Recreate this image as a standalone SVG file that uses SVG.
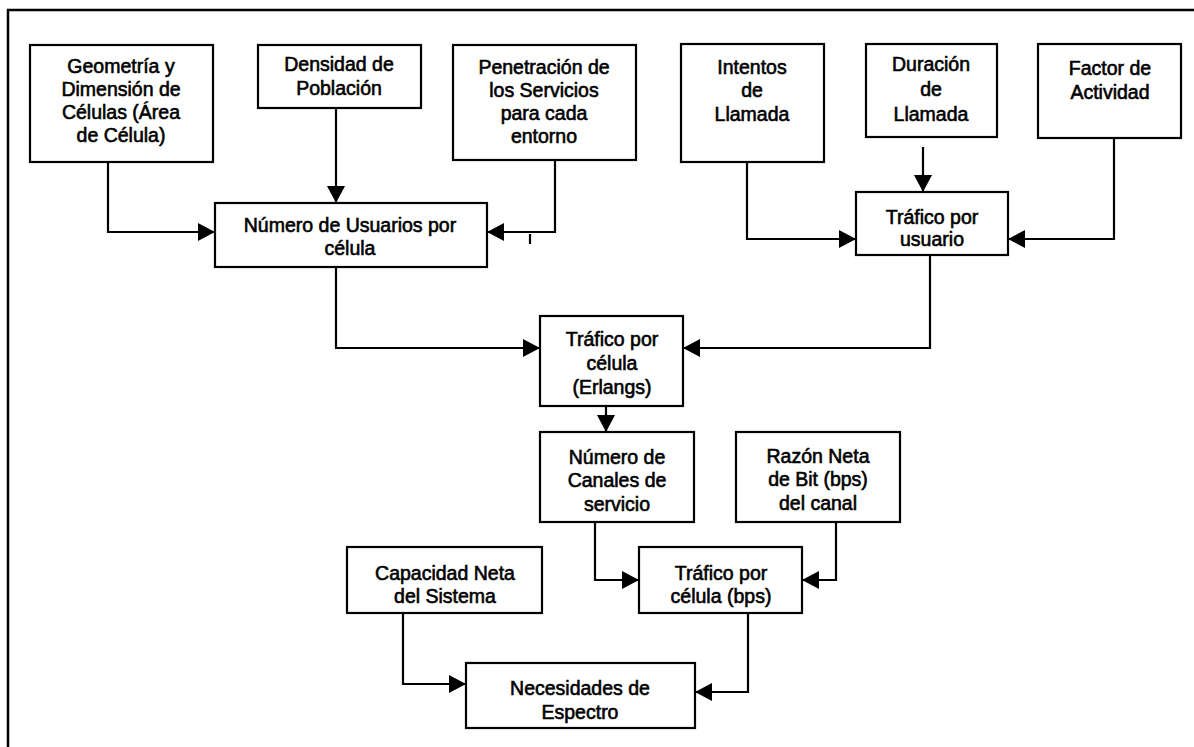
<svg xmlns="http://www.w3.org/2000/svg" width="1194" height="747" viewBox="0 0 1194 747">
<defs>
<style>
.box{fill:#fff;stroke:#000;stroke-width:2.2}
.t{font-family:"Liberation Sans",Arial,sans-serif;font-size:19.5px;fill:#000;stroke:#000;stroke-width:0.6;text-anchor:middle}
.c{fill:none;stroke:#000;stroke-width:2.2}
</style>
<marker id="ah" viewBox="0 0 17 18" refX="17" refY="9" markerWidth="17" markerHeight="18" markerUnits="userSpaceOnUse" orient="auto">
<path d="M0,0 L17,9 L0,18 Z" fill="#000"/>
</marker>
</defs>
<rect width="1194" height="747" fill="#fff"/>
<path d="M1194,10 H8 V747" fill="none" stroke="#000" stroke-width="2.5"/>
<g id="connectors">
<path class="c" d="M108,162 V232 H215" marker-end="url(#ah)"/>
<path class="c" d="M336,108 V203" marker-end="url(#ah)"/>
<path class="c" d="M555,160 V232 H487" marker-end="url(#ah)"/>
<path class="c" d="M530,234 V244"/>
<path class="c" d="M747,162 V239 H856" marker-end="url(#ah)"/>
<path class="c" d="M923,147 V192" marker-end="url(#ah)"/>
<path class="c" d="M1114,138 V239 H1008" marker-end="url(#ah)"/>
<path class="c" d="M336,267 V348 H540" marker-end="url(#ah)"/>
<path class="c" d="M930,255 V348 H683" marker-end="url(#ah)"/>
<path class="c" d="M606,406 V432" marker-end="url(#ah)"/>
<path class="c" d="M595,522 V580 H639" marker-end="url(#ah)"/>
<path class="c" d="M836,522 V580 H802" marker-end="url(#ah)"/>
<path class="c" d="M403,613 V684 H466" marker-end="url(#ah)"/>
<path class="c" d="M748,613 V692 H695" marker-end="url(#ah)"/>
</g>
<g id="n1"><rect class="box" x="30" y="45" width="183" height="117"/>
<text class="t"><tspan x="121" y="73">Geometría y</tspan><tspan x="121" y="96">Dimensión de</tspan><tspan x="121" y="119">Células (Área</tspan><tspan x="121" y="142">de Célula)</tspan></text></g>
<g id="n2"><rect class="box" x="258" y="45" width="163" height="63"/>
<text class="t"><tspan x="339" y="71">Densidad de</tspan><tspan x="339" y="95">Población</tspan></text></g>
<g id="n3"><rect class="box" x="453" y="45" width="183" height="115"/>
<text class="t"><tspan x="544" y="74">Penetración de</tspan><tspan x="544" y="97">los Servicios</tspan><tspan x="544" y="120">para cada</tspan><tspan x="544" y="143">entorno</tspan></text></g>
<g id="n4"><rect class="box" x="681" y="44" width="143" height="118"/>
<text class="t"><tspan x="752" y="74">Intentos</tspan><tspan x="752" y="97">de</tspan><tspan x="752" y="121">Llamada</tspan></text></g>
<g id="n5"><rect class="box" x="866" y="44" width="131" height="93"/>
<text class="t"><tspan x="931" y="71">Duración</tspan><tspan x="931" y="96">de</tspan><tspan x="931" y="121">Llamada</tspan></text></g>
<g id="n6"><rect class="box" x="1038" y="44" width="143" height="94"/>
<text class="t"><tspan x="1110" y="75">Factor de</tspan><tspan x="1110" y="99">Actividad</tspan></text></g>
<g id="n7"><rect class="box" x="215" y="203" width="272" height="64"/>
<text class="t"><tspan x="350" y="232">Número de Usuarios por</tspan><tspan x="350" y="255">célula</tspan></text></g>
<g id="n8"><rect class="box" x="856" y="192" width="152" height="63"/>
<text class="t"><tspan x="932" y="224">Tráfico por</tspan><tspan x="932" y="246">usuario</tspan></text></g>
<g id="n9"><rect class="box" x="540" y="316" width="143" height="90"/>
<text class="t"><tspan x="612" y="346">Tráfico por</tspan><tspan x="612" y="370">célula</tspan><tspan x="612" y="394">(Erlangs)</tspan></text></g>
<g id="n10"><rect class="box" x="540" y="432" width="154" height="90"/>
<text class="t"><tspan x="617" y="464">Número de</tspan><tspan x="617" y="487">Canales de</tspan><tspan x="617" y="511">servicio</tspan></text></g>
<g id="n11"><rect class="box" x="736" y="432" width="164" height="90"/>
<text class="t"><tspan x="818" y="463">Razón Neta</tspan><tspan x="818" y="486">de Bit (bps)</tspan><tspan x="818" y="510">del canal</tspan></text></g>
<g id="n12"><rect class="box" x="347" y="547" width="195" height="66"/>
<text class="t"><tspan x="445" y="580">Capacidad Neta</tspan><tspan x="445" y="603">del Sistema</tspan></text></g>
<g id="n13"><rect class="box" x="639" y="547" width="163" height="66"/>
<text class="t"><tspan x="721" y="580">Tráfico por</tspan><tspan x="721" y="603">célula (bps)</tspan></text></g>
<g id="n14"><rect class="box" x="466" y="663" width="229" height="65"/>
<text class="t"><tspan x="580" y="695">Necesidades de</tspan><tspan x="580" y="719">Espectro</tspan></text></g>
</svg>
